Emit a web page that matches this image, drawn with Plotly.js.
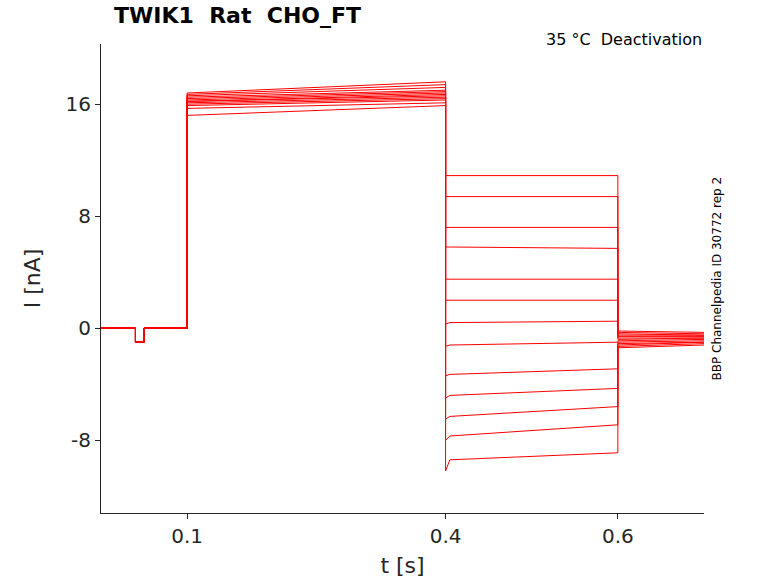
<!DOCTYPE html>
<html>
<head>
<meta charset="utf-8">
<script src="https://cdn.plot.ly/plotly-3.0.1.min.js"></script>
<style>body{margin:0}</style>
</head>
<body>
<div id="chart" style="width:778px;height:583px"></div>
<script>
// protocol times (s)
const tDipStart = 0.04, tDipEnd = 0.05, tStep = 0.1, tDeact = 0.4, tTail = 0.6, tEnd = 0.7;
const dipLevel = -1.0;
// per-sweep current levels (nA)
const stepStart  = [15.2, 15.7, 15.9, 16.0, 16.1, 16.2, 16.2, 16.3, 16.4, 16.5, 16.6, 16.7, 16.8];
const stepEnd    = [15.9, 16.1, 16.3, 16.4, 16.5, 16.6, 16.7, 16.8, 16.9, 17.0, 17.2, 17.4, 17.6];
const deactPeak  = [10.9, 9.4, 7.2, 5.8, 3.5, 2.0, 0.3, -1.3, -3.4, -5.0, -6.5, -8.0, -10.2];
const deactStart = [10.9, 9.4, 7.2, 5.8, 3.5, 2.0, 0.4, -1.2, -3.3, -4.8, -6.3, -7.7, -9.4];
const deactEnd   = [10.9, 9.4, 7.2, 5.7, 3.5, 2.0, 0.5, -1.0, -2.9, -4.3, -5.6, -6.9, -8.9];
const tailStart  = [-0.2, -0.3, -0.4, -0.5, -0.6, -0.7, -0.8, -0.9, -1.0, -1.1, -1.2, -1.3, -1.4];
const tailEnd    = [-0.3, -0.4, -0.5, -0.5, -0.6, -0.7, -0.7, -0.8, -0.9, -1.0, -1.0, -1.1, -1.2];

const traces = stepStart.map((s, i) => ({
  x: [0, tDipStart, tDipStart, tDipEnd, tDipEnd, tStep, tStep, tDeact, tDeact, tDeact + 0.005, tTail, tTail, tEnd],
  y: [0, 0, dipLevel, dipLevel, 0, 0, s, stepEnd[i], deactPeak[i], deactStart[i], deactEnd[i], tailStart[i], tailEnd[i]],
  type: 'scatter', mode: 'lines',
  line: { color: '#ff0000', width: 1 },
  showlegend: false, hoverinfo: 'skip'
}));

const axisFont = { family: 'DejaVu Sans, sans-serif', size: 20, color: '#262626' };
const layout = {
  width: 778, height: 583,
  margin: { l: 101, r: 74, t: 44, b: 70 },
  paper_bgcolor: '#fff', plot_bgcolor: '#fff',
  xaxis: {
    range: [0, 0.7], tickvals: [0.1, 0.4, 0.6], ticktext: ['0.1', '0.4', '0.6'],
    showgrid: false, zeroline: false, showline: true, linecolor: '#262626', linewidth: 1,
    ticks: 'outside', ticklen: 5, tickcolor: '#262626', tickfont: axisFont,
    title: { text: 't [s]', font: { ...axisFont, size: 22 }, standoff: 10 }
  },
  yaxis: {
    range: [-13.2, 20.3], tickvals: [-8, 0, 8, 16], ticktext: ['-8', '0', '8', '16'],
    showgrid: false, zeroline: false, showline: true, linecolor: '#262626', linewidth: 1,
    ticks: 'outside', ticklen: 5, tickcolor: '#262626', tickfont: axisFont,
    title: { text: 'I [nA]', font: { ...axisFont, size: 22 }, standoff: 18 }
  },
  annotations: [
    { text: '<b>TWIK1  Rat  CHO_FT</b>', xref: 'paper', yref: 'paper', x: 0.018, y: 1.03, xanchor: 'left', yanchor: 'bottom',
      showarrow: false, font: { family: 'DejaVu Sans, sans-serif', size: 22, color: '#000' } },
    { text: '35 °C  Deactivation', xref: 'paper', yref: 'paper', x: 1.0, y: 0.985, xanchor: 'right', yanchor: 'bottom',
      showarrow: false, font: { family: 'DejaVu Sans, sans-serif', size: 16, color: '#000' } },
    { text: 'BBP Channelpedia ID 30772 rep 2', xref: 'paper', yref: 'paper', x: 1.005, y: 0.5, xanchor: 'left', yanchor: 'middle',
      textangle: -90, showarrow: false, font: { family: 'DejaVu Sans, sans-serif', size: 12, color: '#000' } }
  ]
};

Plotly.newPlot('chart', traces, layout, { displayModeBar: false, staticPlot: true });
</script>
</body>
</html>
